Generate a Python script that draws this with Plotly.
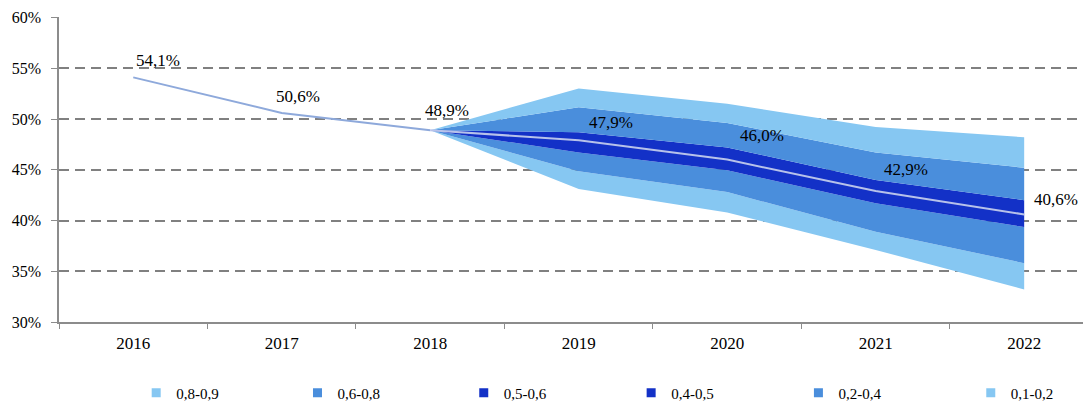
import plotly.graph_objects as go

years = ["2016", "2017", "2018", "2019", "2020", "2021", "2022"]
median = [54.1, 50.6, 48.9, 47.9, 46.0, 42.9, 40.6]
median_labels = ["54,1%", "50,6%", "48,9%", "47,9%", "46,0%", "42,9%", "40,6%"]

fan_years = ["2018", "2019", "2020", "2021", "2022"]
p10 = [48.9, 43.1, 40.8, 37.1, 33.2]
p20 = [48.9, 44.85, 42.8, 38.9, 35.8]
p40 = [48.9, 46.7, 44.95, 41.7, 39.35]
p50 = [48.9, 47.9, 46.0, 42.9, 40.6]
p60 = [48.9, 48.7, 47.2, 44.0, 42.0]
p80 = [48.9, 51.15, 49.6, 46.7, 45.2]
p90 = [48.9, 53.0, 51.5, 49.2, 48.2]

legend_names = ["0,8-0,9", "0,6-0,8", "0,5-0,6", "0,4-0,5", "0,2-0,4", "0,1-0,2"]

LIGHT = "#86C7F2"
MED = "#4A8EDC"
DARK = "#1331C7"
legend_colors = [LIGHT, MED, DARK, DARK, MED, LIGHT]

# layout helpers (positions, not data)
label_dx = [25, 16, 17, 32, 35, 30, 32]
label_dy = [17, 16, 20, 18, 24, 22, 15]
legend_x = [0.0748, 0.2311, 0.3922, 0.5544, 0.7165, 0.8835]
legend_keys = ["legend", "legend2", "legend3", "legend4", "legend5", "legend6"]

FONT = "Liberation Serif"

fig = go.Figure()

# fan (bottom boundary invisible, then stacked bands)
fig.add_trace(go.Scatter(x=fan_years, y=p10, mode="lines", line=dict(width=0),
                         showlegend=False, hoverinfo="skip"))
for upper, col in [(p20, LIGHT), (p40, MED), (p50, DARK), (p60, DARK), (p80, MED), (p90, LIGHT)]:
    fig.add_trace(go.Scatter(x=fan_years, y=upper, mode="lines", line=dict(width=0),
                             fill="tonexty", fillcolor=col, showlegend=False,
                             hoverinfo="skip"))

# median line: history and forecast
fig.add_trace(go.Scatter(x=years[:3], y=median[:3], mode="lines",
                         line=dict(color="#8EA9DB", width=2), showlegend=False))
fig.add_trace(go.Scatter(x=years[2:], y=median[2:], mode="lines",
                         line=dict(color="#B7C2EA", width=2), showlegend=False))

# legend entries, one legend box each
for name, col, key in zip(legend_names, legend_colors, legend_keys):
    fig.add_trace(go.Scatter(x=[None], y=[None], mode="markers", name=name,
                             legend=key,
                             marker=dict(symbol="square", size=9, color=col)))

for i, (v, lab, dx, dy) in enumerate(zip(median, median_labels, label_dx, label_dy)):
    fig.add_annotation(x=i, y=v, xref="x", yref="y", text=lab, showarrow=False,
                       xanchor="center", yanchor="middle", xshift=dx, yshift=dy,
                       font=dict(family=FONT, size=17, color="#000000"))

legend_style = dict(orientation="h", y=-0.233, xanchor="left", yanchor="middle",
                    itemwidth=30, bgcolor="rgba(0,0,0,0)",
                    font=dict(family=FONT, size=15, color="#000000"))
legends = {key: dict(x=lx, **legend_style) for key, lx in zip(legend_keys, legend_x)}

# the page adds an 8px body margin, so the figure is 8px smaller than the window
fig.update_layout(
    width=1083, height=397,
    margin=dict(l=51, r=0, t=9, b=83, autoexpand=False),
    plot_bgcolor="white", paper_bgcolor="white",
    font=dict(family=FONT, size=16, color="#000000"),
    xaxis=dict(type="category", categoryorder="array", categoryarray=years,
               range=[-0.5, 6.45], showgrid=False, showline=True, linecolor="#8C8C8C",
               linewidth=1.5, ticks="outside", tickson="boundaries", ticklen=5,
               tickcolor="#8C8C8C", tickfont=dict(size=17), zeroline=False,
               ticklabelstandoff=5, automargin=False),
    yaxis=dict(range=[30, 60.05], tick0=30, dtick=5, ticksuffix="%",
               showgrid=True, gridcolor="#808080", gridwidth=2, griddash="10px,6px",
               showline=True, linecolor="#8C8C8C", linewidth=1.5, ticks="outside",
               ticklen=6, tickcolor="#8C8C8C", zeroline=False, tickfont=dict(size=16),
               ticklabelstandoff=7, automargin=False),
    **legends,
)

fig.write_html("out.html")
